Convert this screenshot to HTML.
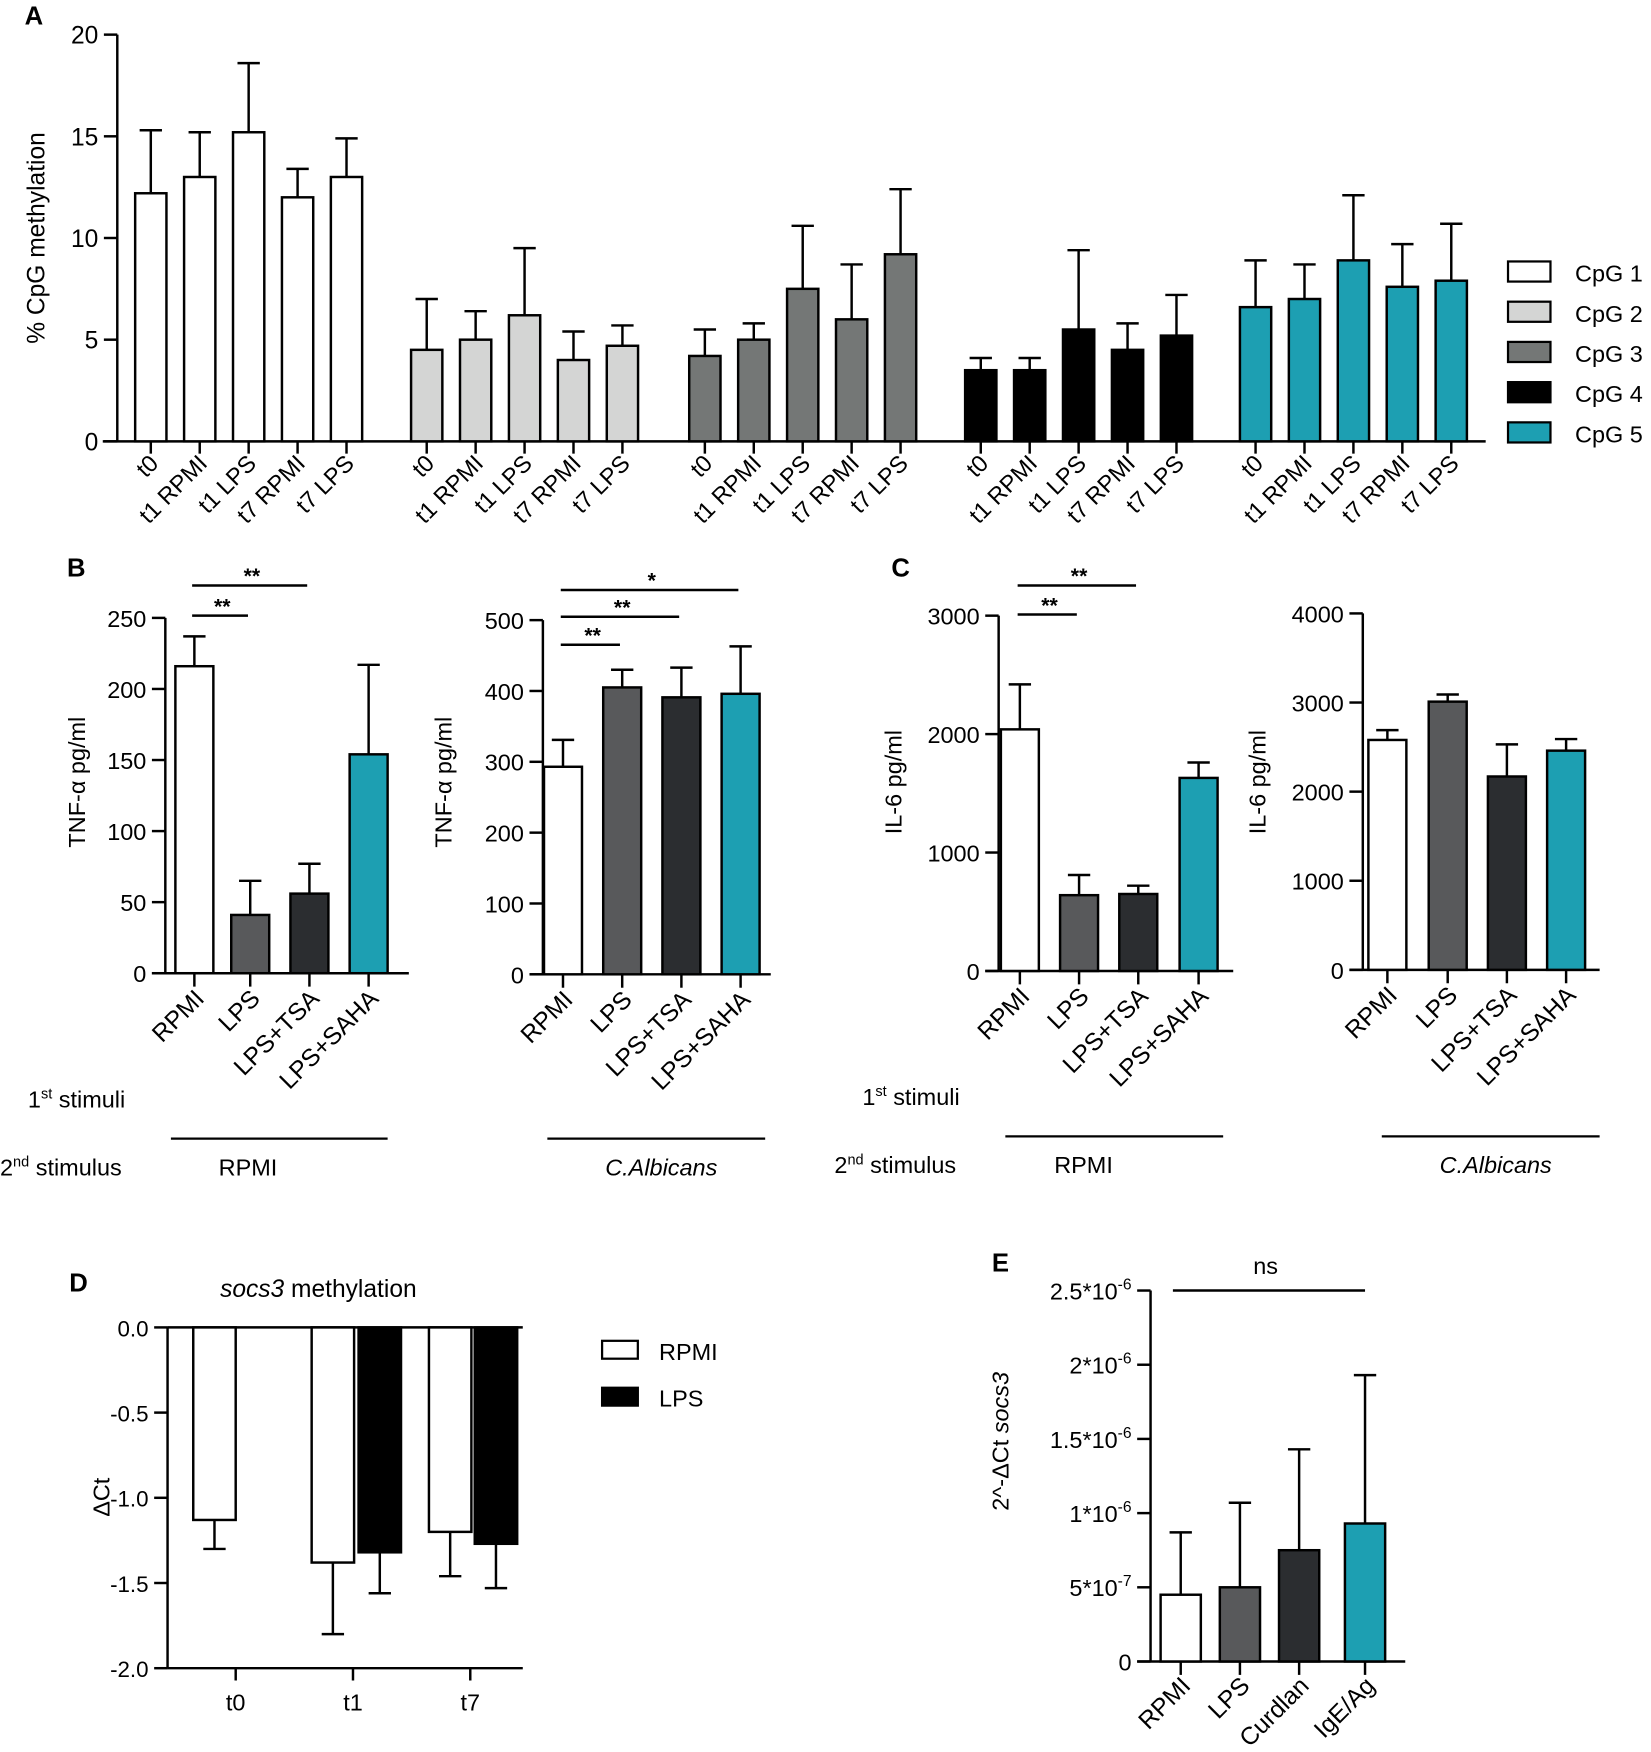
<!DOCTYPE html>
<html><head><meta charset="utf-8">
<style>
html,body{margin:0;padding:0;background:#fff;}
svg{display:block;font-family:"Liberation Sans",Arial,sans-serif;}
</style></head>
<body>
<svg id="fig" width="1651" height="1752" viewBox="0 0 1478 1568" preserveAspectRatio="none" xmlns="http://www.w3.org/2000/svg">
<text x="22" y="22" font-size="23" font-weight="bold">A</text>
<text x="60" y="516" font-size="23" font-weight="bold">B</text>
<text x="798" y="516" font-size="23" font-weight="bold">C</text>
<text x="62" y="1156" font-size="23" font-weight="bold">D</text>
<text x="888" y="1138" font-size="23" font-weight="bold">E</text>

<text x="25" y="991" font-size="21">1<tspan font-size="13" dy="-8">st</tspan><tspan dy="8"> stimuli</tspan></text>
<text x="0" y="1052" font-size="21">2<tspan font-size="13" dy="-8">nd</tspan><tspan dy="8"> stimulus</tspan></text>
<line x1="153" y1="1019" x2="347" y2="1019" stroke="#000" stroke-width="2"/>
<text x="222" y="1052" font-size="21" text-anchor="middle">RPMI</text>
<line x1="490" y1="1019" x2="685" y2="1019" stroke="#000" stroke-width="2"/>
<text x="592" y="1052" font-size="21" font-style="italic" text-anchor="middle">C.Albicans</text>
<text x="772" y="989" font-size="21">1<tspan font-size="13" dy="-8">st</tspan><tspan dy="8"> stimuli</tspan></text>
<text x="747" y="1050" font-size="21">2<tspan font-size="13" dy="-8">nd</tspan><tspan dy="8"> stimulus</tspan></text>
<line x1="900" y1="1017" x2="1095" y2="1017" stroke="#000" stroke-width="2"/>
<text x="970" y="1050" font-size="21" text-anchor="middle">RPMI</text>
<line x1="1237" y1="1017" x2="1432" y2="1017" stroke="#000" stroke-width="2"/>
<text x="1339" y="1050" font-size="21" font-style="italic" text-anchor="middle">C.Albicans</text>
</svg>
<script>
// ---------- Data ----------
const aGroups = ["CpG 1","CpG 2","CpG 3","CpG 4","CpG 5"];
const aCats = ["t0","t1 RPMI","t1 LPS","t7 RPMI","t7 LPS"];
const aMeans = [[12.2,13.0,15.2,12.0,13.0],[4.5,5.0,6.2,4.0,4.7],[4.2,5.0,7.5,6.0,9.2],[3.5,3.5,5.5,4.5,5.2],[6.6,7.0,8.9,7.6,7.9]];
const aTops = [[15.3,15.2,18.6,13.4,14.9],[7.0,6.4,9.5,5.4,5.7],[5.5,5.8,10.6,8.7,12.4],[4.1,4.1,9.4,5.8,7.2],[8.9,8.7,12.1,9.7,10.7]];
const aTicks = [0,5,10,15,20];
const aColors = ["#ffffff","#d4d5d4","#747776","#000000","#1d9fb2"];

const bcCats = ["RPMI","LPS","LPS+TSA","LPS+SAHA"];
const bcColors = ["#ffffff","#58595b","#2b2d30","#1d9fb2"];
const b1Means = [216,41,56,154];
const b1Tops = [237,65,77,217];
const b1Ticks = [0,50,100,150,200,250];
const b2Means = [293,405,391,396];
const b2Tops = [331,430,433,463];
const b2Ticks = [0,100,200,300,400,500];
const c1Means = [2040,640,650,1630];
const c1Tops = [2420,810,720,1760];
const c1Ticks = [0,1000,2000,3000];
const c2Means = [2580,3010,2170,2460];
const c2Tops = [2690,3090,2530,2590];
const c2Ticks = [0,1000,2000,3000,4000];

const dCats = ["t0","t1","t7"];
const dRpmi = [-1.13,-1.38,-1.20];
const dRpmiErr = [-1.30,-1.80,-1.46];
const dLps = [null,-1.32,-1.27];
const dLpsErr = [null,-1.56,-1.53];
const dTicks = [0.0,-0.5,-1.0,-1.5,-2.0];

const eCats = ["RPMI","LPS","Curdlan","IgE/Ag"];
const eMeans = [0.45e-6,0.50e-6,0.75e-6,0.93e-6];
const eTops = [0.87e-6,1.07e-6,1.43e-6,1.93e-6];
const eTicks = [0,5e-7,1e-6,1.5e-6,2e-6,2.5e-6];
const eTickLabels = [["0",""],["5*10","-7"],["1*10","-6"],["1.5*10","-6"],["2*10","-6"],["2.5*10","-6"]];

// ---------- Helpers ----------
const svg = document.getElementById('fig');
const NS = "http://www.w3.org/2000/svg";
function mk(tag, attrs, parent){
  const e = document.createElementNS(NS, tag);
  for (const k in attrs) e.setAttribute(k, attrs[k]);
  (parent||svg).appendChild(e);
  return e;
}
function lin(d0,d1,p0,p1){ return v => p0 + (v-d0)*(p1-p0)/(d1-d0); }
function ln(x1,y1,x2,y2,name){
  const e = mk('line',{x1:x1,y1:y1,x2:x2,y2:y2,stroke:'#000','stroke-width':2.2});
  
  
  return e;
}
function txt(x,y,s,size,anchor,name,extra){
  const e = mk('text',Object.assign({x:x,y:y,'font-size':size,'text-anchor':anchor||'start'},extra||{}));
  e.textContent = s;
  
  
  return e;
}
function bar(cx,w,y0,yv,fill,name){
  const r = mk('rect',{x:cx-w/2,y:Math.min(y0,yv),width:w,height:Math.abs(yv-y0),fill:fill,stroke:'#000','stroke-width':2.2});
  
  
  return r;
}
function err(cx,yv,yt,cap,name){
  ln(cx,yv,cx,yt,name);
  ln(cx-cap,yt,cx+cap,yt,name+'-cap');
}
function rotLabel(x,y,s,size,name){
  const e = mk('text',{x:x,y:y,'font-size':size,'text-anchor':'end',transform:'rotate(-45 '+x+' '+y+')'});
  e.textContent = s;
  
  
}
function yAxis(ax,ytop,ybot,ticks,sy,fmt,size,name){
  ln(ax,ytop,ax,ybot,name);
  ticks.forEach((t,i)=>{
    ln(ax-12,sy(t),ax,sy(t),name+'-tick');
    txt(ax-17,sy(t)+8,fmt(t,i),size,'end',name+'-tick-label');
  });
}

// ---------- Panel A ----------
(function(){
  const ax=105, sy=lin(0,20,395,31);
  const groupStart=[135,382,631,878,1124], step=43.8, w=28;
  yAxis(ax,31,395,aTicks,sy,t=>String(t),22,'a-y-axis');
  ln(92,395,1330,395,'a-x-axis');
  const yt = mk('text',{x:40,y:213,'font-size':22,'text-anchor':'middle',transform:'rotate(-90 40 213)'});
  yt.textContent='% CpG methylation';
  
  
  aGroups.forEach((g,gi)=>{
    aCats.forEach((c,ci)=>{
      const cx = groupStart[gi]+ci*step;
      err(cx,sy(aMeans[gi][ci]),sy(aTops[gi][ci]),10,'a-error-bar');
      bar(cx,w,sy(0),sy(aMeans[gi][ci]),aColors[gi],'a-bar-cpg'+(gi+1)+'-'+ci);
      ln(cx,395,cx,406,'a-x-tick');
      rotLabel(cx+8,416,c,21,'a-x-tick-label');
    });
    const ly=234+gi*36;
    const r = mk('rect',{x:1350,y:ly,width:38,height:18,fill:aColors[gi],stroke:'#000','stroke-width':2});
    
    
    txt(1410,ly+18,g,21,'start','legend-entry-cpg'+(gi+1));
  });
})();

// ---------- Panels B/C ----------
function bcPanel(p){
  const sy=lin(0,p.max,p.y0,p.ytop);
  yAxis(p.ax,p.ytop,p.y0,p.ticks,sy,t=>String(t),21,p.id+'-y-axis');
  ln(p.ax-12,p.y0,p.xend,p.y0,p.id+'-x-axis');
  const yt = mk('text',{x:p.tx,y:p.ty,'font-size':21,'text-anchor':'middle',transform:'rotate(-90 '+p.tx+' '+p.ty+')'});
  yt.textContent=p.title;
  
  
  bcCats.forEach((c,i)=>{
    const cx=p.xs[i];
    err(cx,sy(p.means[i]),sy(p.tops[i]),10,p.id+'-error-bar');
    bar(cx,34,sy(0),sy(p.means[i]),bcColors[i],p.id+'-bar-'+i);
    ln(cx,p.y0,cx,p.y0+12,p.id+'-x-tick');
    rotLabel(cx+10,p.y0+24,c,22,p.id+'-x-tick-label');
  });
  (p.sig||[]).forEach((s,i)=>{
    ln(p.xs[0]-2,s[0],p.xs[s[1]]-2,s[0],p.id+'-sig-line');
    txt((p.xs[0]+p.xs[s[1]])/2,s[0]-2,s[2],19,'middle',p.id+'-sig-stars',{'font-weight':'bold'});
  });
}
bcPanel({id:'b1',ax:148,y0:871,ytop:553,max:250,ticks:b1Ticks,xs:[174,224,277,330],xend:366,means:b1Means,tops:b1Tops,title:'TNF-α pg/ml',tx:76,ty:700,sig:[[551,1,'**'],[524,2,'**']]});
bcPanel({id:'b2',ax:486,y0:872,ytop:555,max:500,ticks:b2Ticks,xs:[504,557,610,663],xend:690,means:b2Means,tops:b2Tops,title:'TNF-α pg/ml',tx:404,ty:700,sig:[[577,1,'**'],[552,2,'**'],[528,3,'*']]});
bcPanel({id:'c1',ax:894,y0:869,ytop:551,max:3000,ticks:c1Ticks,xs:[913,966,1019,1073],xend:1104,means:c1Means,tops:c1Tops,title:'IL-6 pg/ml',tx:807,ty:700,sig:[[550,1,'**'],[524,2,'**']]});
bcPanel({id:'c2',ax:1220,y0:868,ytop:549,max:4000,ticks:c2Ticks,xs:[1242,1296,1349,1402],xend:1432,means:c2Means,tops:c2Tops,title:'IL-6 pg/ml',tx:1133,ty:700});

// ---------- Panel D ----------
(function(){
  const ax=150, sy=lin(0,-2,1188,1493);
  yAxis(ax,1188,1493,dTicks,sy,t=>t.toFixed(1),20,'d-y-axis');
  ln(ax,1188,468,1188,'d-x-axis');
  const xs=[[192,null],[298,340],[403,444]];
  const labX=[211,316,421];
  dCats.forEach((c,i)=>{
    err(xs[i][0],sy(dRpmi[i]),sy(dRpmiErr[i]),10,'d-error-bar-rpmi');
    bar(xs[i][0],38,sy(0),sy(dRpmi[i]),'#ffffff','d-bar-rpmi-'+c);
    if(dLps[i]!==null){
      err(xs[i][1],sy(dLps[i]),sy(dLpsErr[i]),10,'d-error-bar-lps');
      bar(xs[i][1],38,sy(0),sy(dLps[i]),'#000000','d-bar-lps-'+c);
    }
    ln(labX[i],1493,labX[i],1504,'d-x-tick');
    txt(labX[i],1531,c,21,'middle','d-x-tick-label');
  });
  ln(ax,1493,468,1493,'d-x-axis-bottom');
  const t=txt(285,1161,'',22,'middle','d-title');
  const ts1=document.createElementNS(NS,'tspan'); ts1.setAttribute('font-style','italic'); ts1.textContent='socs3'; t.appendChild(ts1);
  const ts2=document.createElementNS(NS,'tspan'); ts2.textContent=' methylation'; t.appendChild(ts2);
  const yt=mk('text',{x:98,y:1340,'font-size':21,'text-anchor':'middle',transform:'rotate(-90 98 1340)'});
  yt.textContent='ΔCt';
  
  
  const r1=mk('rect',{x:539,y:1200,width:32,height:16,fill:'#fff',stroke:'#000','stroke-width':2});
  
  
  txt(590,1217,'RPMI',21,'start','d-legend-entry-rpmi');
  const r2=mk('rect',{x:539,y:1242,width:32,height:16,fill:'#000',stroke:'#000','stroke-width':2});
  
  
  txt(590,1259,'LPS',21,'start','d-legend-entry-lps');
})();

// ---------- Panel E ----------
(function(){
  const ax=1030, sy=lin(0,2.5e-6,1487,1155);
  ln(ax,1155,ax,1487,'e-y-axis');
  eTicks.forEach((t,i)=>{
    ln(ax-12,sy(t),ax,sy(t),'e-y-tick');
    const e=txt(ax-17,sy(t)+8,'',21,'end','e-y-tick-label');
    const a=document.createElementNS(NS,'tspan'); a.textContent=eTickLabels[i][0]; e.appendChild(a);
    if(eTickLabels[i][1]){
      const b=document.createElementNS(NS,'tspan'); b.setAttribute('font-size','14'); b.setAttribute('dy','-9'); b.textContent=eTickLabels[i][1]; e.appendChild(b);
    }
  });
  ln(ax-12,1487,1258,1487,'e-x-axis');
  const xs=[1057,1110,1163,1222];
  eCats.forEach((c,i)=>{
    err(xs[i],sy(eMeans[i]),sy(eTops[i]),10,'e-error-bar');
    bar(xs[i],36,sy(0),sy(eMeans[i]),bcColors[i],'e-bar-'+i);
    ln(xs[i],1487,xs[i],1499,'e-x-tick');
    rotLabel(xs[i]+10,1510,c,22,'e-x-tick-label');
  });
  ln(1050,1155,1222,1155,'e-sig-line');
  txt(1133,1140,'ns',21,'middle','e-sig-label');
  const yt=mk('text',{x:903,y:1290,'font-size':21,'text-anchor':'middle',transform:'rotate(-90 903 1290)'});
  const a=document.createElementNS(NS,'tspan'); a.textContent='2^-ΔCt '; yt.appendChild(a);
  const b=document.createElementNS(NS,'tspan'); b.setAttribute('font-style','italic'); b.textContent='socs3'; yt.appendChild(b);
  
  
})();
</script>
</body></html>
